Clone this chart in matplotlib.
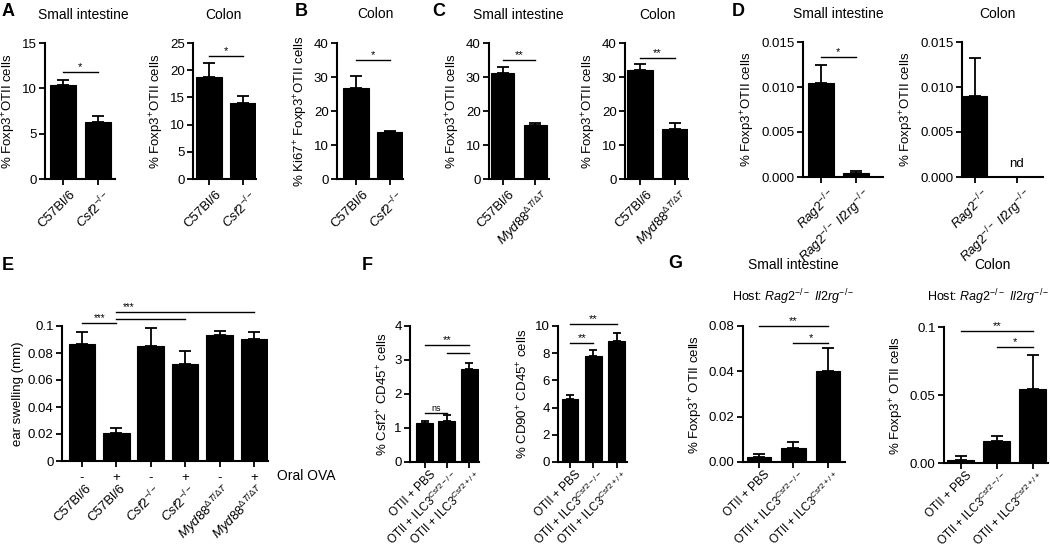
import matplotlib
matplotlib.use('Agg')
import matplotlib.pyplot as plt
import numpy as np
from matplotlib.transforms import blended_transform_factory, ScaledTranslation

plt.rcParams['font.family'] = ['Liberation Sans', 'DejaVu Sans']
plt.rcParams['mathtext.fontset'] = 'custom'
plt.rcParams['mathtext.rm'] = 'Liberation Sans'
plt.rcParams['mathtext.it'] = 'Liberation Sans:italic'
plt.rcParams['mathtext.bf'] = 'Liberation Sans:bold'
plt.rcParams['mathtext.sf'] = 'Liberation Sans'

# ---------------- data ----------------
csf2_lab = r'$\mathit{Csf2}^{-/-}$'
myd88_lab = r'$\mathit{Myd88}^{\Delta T/\Delta T}$'
rag2_lab = r'$\mathit{Rag2}^{-/-}$'
rag2il2_lab = r'$\mathit{Rag2}^{-/-}\ \mathit{Il2rg}^{-/-}$'

a_labels = ['C57Bl/6', csf2_lab]
a_si_vals = [10.4, 6.3]
a_si_err = [0.55, 0.65]
a_co_vals = [18.7, 13.9]
a_co_err = [2.7, 1.4]

b_labels = ['C57Bl/6', csf2_lab]
b_vals = [26.8, 13.7]
b_err = [3.4, 0.4]

c_labels = ['C57Bl/6', myd88_lab]
c_si_vals = [31.3, 16.0]
c_si_err = [1.6, 0.5]
c_co_vals = [32.0, 14.8]
c_co_err = [1.8, 1.8]

d_labels = [rag2_lab, rag2il2_lab]
d_si_vals = [0.0104, 0.0004]
d_si_err = [0.0021, 0.0003]
d_co_vals = [0.0090, np.nan]   # second group: nd
d_co_err = [0.0042, np.nan]

e_ova = ['-', '+', '-', '+', '-', '+']
e_genotypes = ['C57Bl/6', 'C57Bl/6', csf2_lab, csf2_lab, myd88_lab, myd88_lab]
e_vals = [0.087, 0.0204, 0.0853, 0.0717, 0.0934, 0.0904]
e_err = [0.0088, 0.0040, 0.0130, 0.0099, 0.0032, 0.0054]

f_labels = ['OTII + PBS', r'OTII + ILC3$^{\mathit{Csf2}-/-}$', r'OTII + ILC3$^{\mathit{Csf2}+/+}$']
f_csf2_vals = [1.15, 1.2, 2.75]
f_csf2_err = [0.07, 0.17, 0.15]
f_cd90_vals = [4.6, 7.8, 8.9]
f_cd90_err = [0.3, 0.4, 0.55]

g_labels = f_labels
g_si_vals = [0.0022, 0.0061, 0.0400]
g_si_err = [0.0013, 0.0028, 0.0102]
g_co_vals = [0.0025, 0.0159, 0.0542]
g_co_err = [0.0026, 0.0037, 0.0255]

a_si_ticks = [0, 5, 10, 15]
a_co_ticks = [0, 5, 10, 15, 20, 25]
b_ticks = [0, 10, 20, 30, 40]
c_ticks = [0, 10, 20, 30, 40]
d_ticks = [0.0, 0.005, 0.010, 0.015]
d_ticklabels = ['0.000', '0.005', '0.010', '0.015']
e_ticks = [0, 0.02, 0.04, 0.06, 0.08, 0.1]
e_ticklabels = ['0', '0.02', '0.04', '0.06', '0.08', '0.1']
f_csf2_ticks = [0, 1, 2, 3, 4]
f_cd90_ticks = [0, 2, 4, 6, 8, 10]
g_si_ticks = [0, 0.02, 0.04, 0.06]
g_si_ticklabels = ['0.00', '0.02', '0.04', '0.08']
g_co_ticks = [0, 0.05, 0.1]
g_co_ticklabels = ['0.00', '0.05', '0.1']

# ---------------- layout ----------------
W, H = 1050, 549
fig = plt.figure(figsize=(10.5, 5.49), dpi=100)

def add_ax(l, r, t, b):
    return fig.add_axes([l / W, 1 - b / H, (r - l) / W, (b - t) / H])

def style(ax):
    for s in ['top', 'right']:
        ax.spines[s].set_visible(False)
    for s in ['left', 'bottom']:
        ax.spines[s].set_linewidth(1.5)
    ax.tick_params(direction='out', length=4, width=1.3, labelsize=9.5, pad=2)

def bars(ax, vals, errs, width, xlim, ylim, ticks, ticklabels, ylabel, capsize):
    x = np.arange(len(vals))
    v = np.array(vals, dtype=float)
    e = np.array(errs, dtype=float)
    ax.bar(x, v, width=width, color='black', edgecolor='black', linewidth=0.8)
    ok = ~np.isnan(v)
    ax.errorbar(x[ok], v[ok], yerr=[np.zeros(ok.sum()), e[ok]], fmt='none',
                ecolor='black', elinewidth=1.3, capsize=capsize, capthick=1.3)
    ax.set_xlim(*xlim)
    ax.set_ylim(*ylim)
    ax.set_yticks(ticks)
    if ticklabels is not None:
        ax.set_yticklabels(ticklabels)
    ax.set_xticks(x)
    ax.set_xticklabels([])
    ax.set_ylabel(ylabel, fontsize=9.5, labelpad=3)
    style(ax)
    return x

def xlabels(ax, labels, dx=6, dy=-9, fs=9.5):
    tr = blended_transform_factory(ax.transData, ax.transAxes) + \
        ScaledTranslation(dx / 100, dy / 100, fig.dpi_scale_trans)
    for i, lab in enumerate(labels):
        ax.text(i, 0, lab, transform=tr, rotation=45, ha='right', va='top',
                rotation_mode='anchor', fontsize=fs)

def sig(ax, x0, x1, y, txt, tx=None, fs=8, dy=0):
    ax.plot([x0, x1], [y, y], color='black', lw=1.0, clip_on=False)
    if txt:
        ax.text((x0 + x1) / 2 if tx is None else tx, y + dy, txt, ha='center',
                va='bottom', fontsize=fs, clip_on=False)

def ftext(x, y, s, **kw):
    fig.text(x / W, 1 - y / H, s, **kw)

ylab_foxp3 = r'% Foxp3$^{+}$OTII cells'

# A
ax = add_ax(45, 115, 43, 179)
bars(ax, a_si_vals, a_si_err, 0.74, (-0.51, 1.49), (0, 15), a_si_ticks, None, ylab_foxp3, 4.5)
xlabels(ax, a_labels)
sig(ax, 0, 1, 11.8, '*')

ax = add_ax(193, 256, 43, 179)
bars(ax, a_co_vals, a_co_err, 0.76, (-0.47, 1.38), (0, 25), a_co_ticks, None, ylab_foxp3, 4.5)
xlabels(ax, a_labels)
sig(ax, 0, 1, 22.6, '*')

# B
ax = add_ax(337, 403, 43, 179)
bars(ax, b_vals, b_err, 0.76, (-0.56, 1.38), (0, 40), b_ticks, None,
     r'% Ki67$^{+}$ Foxp3$^{+}$OTII cells', 4.5)
xlabels(ax, b_labels)
sig(ax, 0, 1, 34.9, '*')

# C
ax = add_ax(489, 549, 43, 179)
bars(ax, c_si_vals, c_si_err, 0.72, (-0.42, 1.42), (0, 40), c_ticks, None, ylab_foxp3, 4.5)
xlabels(ax, c_labels)
sig(ax, 0, 1, 35.0, '**')

ax = add_ax(625, 688, 43, 179)
bars(ax, c_co_vals, c_co_err, 0.74, (-0.43, 1.37), (0, 40), c_ticks, None, ylab_foxp3, 4.5)
xlabels(ax, c_labels)
sig(ax, 0, 1, 35.5, '**')

# D
ax = add_ax(803, 883, 42, 177)
bars(ax, d_si_vals, d_si_err, 0.74, (-0.51, 1.77), (0, 0.015), d_ticks, d_ticklabels, ylab_foxp3, 4.5)
xlabels(ax, d_labels)
sig(ax, 0, 1, 0.0133, '*')

ax = add_ax(962, 1043, 42, 177)
bars(ax, d_co_vals, d_co_err, 0.55, (-0.31, 1.62), (0, 0.015), d_ticks, d_ticklabels, ylab_foxp3, 4.5)
xlabels(ax, d_labels)
ax.text(1, 0.0008, 'nd', ha='center', va='bottom', fontsize=9.5)

# E
ax = add_ax(62, 268, 326, 461)
x = bars(ax, e_vals, e_err, 0.77, (-0.58, 5.41), (0, 0.1), e_ticks, e_ticklabels, 'ear swelling (mm)', 4.5)
ax.set_xticklabels(e_ova, fontsize=9.5)
ax.tick_params(axis='x', pad=4)
xlabels(ax, e_genotypes, dx=3, dy=-21)
sig(ax, 0, 1, 0.102, '***', fs=7)
sig(ax, 1, 3, 0.1049, '')
sig(ax, 1, 5, 0.1106, '***', tx=1.35, fs=7)
ftext(277, 476, 'Oral OVA', fontsize=10, va='center', ha='left')

# F
ax = add_ax(410, 479, 326, 462)
bars(ax, f_csf2_vals, f_csf2_err, 0.76, (-0.65, 2.44), (0, 4), f_csf2_ticks, None,
     r'% Csf2$^{+}$ CD45$^{+}$ cells', 3.2)
xlabels(ax, f_labels, dx=5, dy=-7, fs=8.5)
sig(ax, 0, 1, 1.45, 'ns', fs=6.5)
sig(ax, 0, 2, 3.45, '**')
sig(ax, 1, 2, 3.2, '')

ax = add_ax(558, 627, 326, 462)
bars(ax, f_cd90_vals, f_cd90_err, 0.71, (-0.52, 2.45), (0, 10), f_cd90_ticks, None,
     r'% CD90$^{+}$ CD45$^{+}$ cells', 3.2)
xlabels(ax, f_labels, dx=5, dy=-7, fs=8.5)
sig(ax, 0, 2, 10.12, '**')
sig(ax, 0, 1, 8.77, '**')

# G
ax = add_ax(743, 845, 326, 462)
bars(ax, g_si_vals, g_si_err, 0.70, (-0.46, 2.49), (0, 0.06), g_si_ticks, g_si_ticklabels,
     r'% Foxp3$^{+}$ OTII cells', 4.5)
xlabels(ax, g_labels, dx=5, dy=-7, fs=8.5)
sig(ax, 0, 2, 0.0598, '**')
sig(ax, 1, 2, 0.0526, '*')

ax = add_ax(944, 1048, 327, 463)
bars(ax, g_co_vals, g_co_err, 0.75, (-0.47, 2.42), (0, 0.1), g_co_ticks, g_co_ticklabels,
     r'% Foxp3$^{+}$ OTII cells', 4.5)
xlabels(ax, g_labels, dx=5, dy=-7, fs=8.5)
sig(ax, 0, 2, 0.097, '**')
sig(ax, 1, 2, 0.0853, '*')

# titles
tkw = dict(fontsize=10, ha='center', va='center')
ftext(83, 15, 'Small intestine', **tkw)
ftext(223, 15, 'Colon', **tkw)
ftext(375, 14, 'Colon', **tkw)
ftext(518, 15, 'Small intestine', **tkw)
ftext(657, 15, 'Colon', **tkw)
ftext(838, 14, 'Small intestine', **tkw)
ftext(997, 14, 'Colon', **tkw)
ftext(793, 265, 'Small intestine', **tkw)
ftext(992, 265, 'Colon', **tkw)
host = r'Host: $\mathit{Rag2}^{-/-}\ \mathit{Il2rg}^{-/-}$'
hkw = dict(fontsize=9, ha='center', va='center')
ftext(793, 297, host, **hkw)
ftext(988, 297, host, **hkw)

# panel letters
lkw = dict(fontsize=13, fontweight='bold', ha='left', va='center')
for letter, px, py in [('A', 2, 12), ('B', 295, 12), ('C', 432, 12), ('D', 732, 12),
                       ('E', 2, 266), ('F', 362, 266), ('G', 668, 264)]:
    ftext(px, py, letter, **lkw)

fig.savefig('out.png', dpi=100)
